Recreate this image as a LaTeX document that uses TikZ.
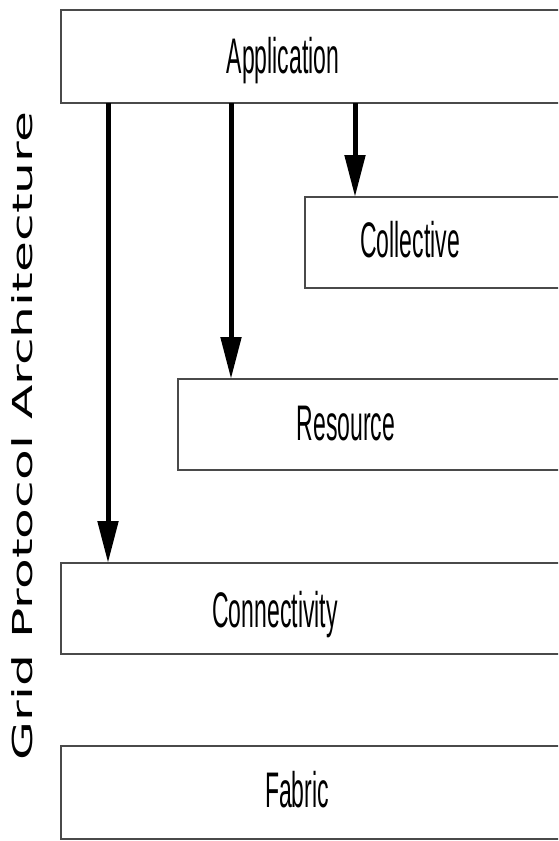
\documentclass[tikz,border=0pt]{standalone}
\usepackage{fontspec}
\usepackage{tikz}
\usetikzlibrary{positioning,arrows.meta}
\newfontfamily\boxfont[FakeStretch=0.46]{Liberation Sans}
\newfontfamily\sidefont[FakeStretch=1.83]{DejaVu Sans}
\definecolor{gpline}{HTML}{4A4A4A}

\begin{document}
\begin{tikzpicture}[x=1pt, y=-1pt,
    layer/.style={draw=gpline, line width=1.8pt, fill=white, anchor=north west,
      inner sep=0pt, outer sep=0pt, minimum height=93pt},
    layertext/.style={anchor=base, inner sep=0pt, font=\boxfont\fontsize{50}{60}\selectfont},
    uses/.style={-{Triangle[width=20pt,length=42pt]}, line width=5pt, black}]
  \useasboundingbox (0,0) rectangle (558,841);
  \clip (0,0) rectangle (558,841);
  % protocol layers
  \node[layer, minimum width=520pt] (app) at (61,10) {};
  \node[layer, minimum width=270pt, minimum height=91pt] (coll) at (305,197) {};
  \node[layer, minimum width=395pt, minimum height=91pt] (res) at (178,379) {};
  \node[layer, minimum width=520pt, minimum height=91pt] (conn) at (61,563) {};
  \node[layer, minimum width=520pt] (fab) at (61,746) {};
  \node[layertext] (appText) at (283,73) {Application};
  \node[layertext] (collText) at (410,257) {Collective};
  \node[layertext] (resText) at (346,440) {Resource};
  \node[layertext] (connText) at (275,627) {Connectivity};
  \node[layertext] (fabText) at (297,807) {Fabric};
  % calls down the stack
  \draw[uses] ([xshift=47pt]app.south west) -- ([xshift=47pt]conn.north west);
  \draw[uses] ([xshift=170pt]app.south west) -- ([xshift=170pt]app.south west |- res.north);
  \draw[uses] ([xshift=294pt]app.south west) -- ([xshift=294pt]app.south west |- coll.north);
  % side title
  \node[rotate=90, anchor=base, inner sep=0pt, font=\sidefont\fontsize{27.5}{33}\selectfont]
    (title) at (32,436) {Grid Protocol Architecture};
\end{tikzpicture}
\end{document}
